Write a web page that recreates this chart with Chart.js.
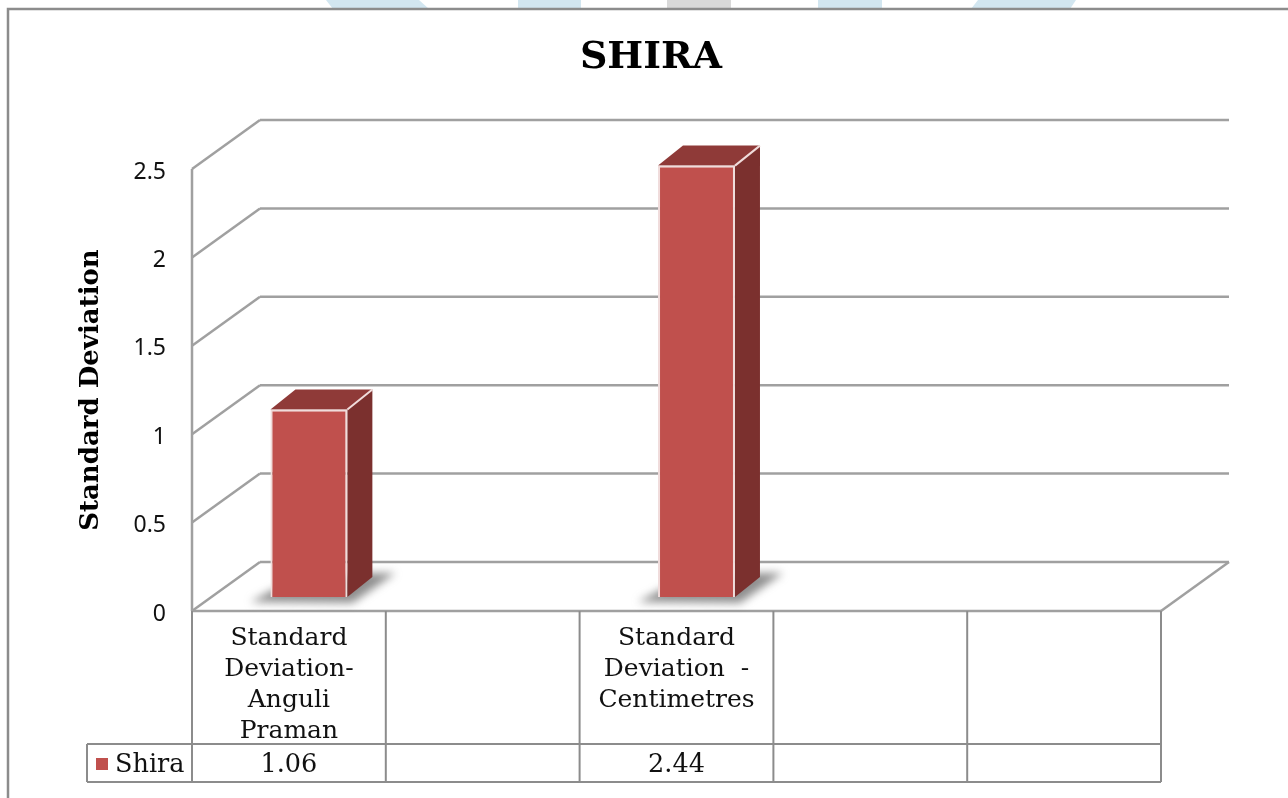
<!DOCTYPE html>
<html>
<head>
<meta charset="utf-8">
<style>html,body{margin:0;padding:0;background:#fff;overflow:hidden}canvas{display:block}</style>
<script src="https://cdn.jsdelivr.net/npm/chart.js@4"></script>
</head>
<body>
<canvas id="c" width="1288" height="798"></canvas>
<script>
const categories = [
  ['Standard', 'Deviation-', 'Anguli', 'Praman'],
  '',
  ['Standard', 'Deviation  -', 'Centimetres'],
  '',
  ''
];
const seriesName = 'Shira';
const shiraValues = [1.06, null, 2.44, null, null];
const tableValues = ['1.06', '', '2.44', '', ''];
const chartTitle = 'SHIRA';
const yAxisTitle = 'Standard Deviation';

const SERIF = '"DejaVu Serif", serif';
const GRID = '#a0a0a0', TABLE = '#8c8c8c';
const RED = '#c0504d', RED_TOP = '#8f3a38', RED_SIDE = '#7b302e', EDGE = '#f0dcdb';
// 3-D projection of the plot: wall depth, bar shift inside the floor, bar depth
const DEPTH = {x: 68, y: -49}, SHIFT = {x: 20, y: -14}, BAR = {x: 25, y: -20};
const Y_LABEL_DROP = 3;

function line(ctx, x1, y1, x2, y2) { ctx.beginPath(); ctx.moveTo(x1, y1); ctx.lineTo(x2, y2); ctx.stroke(); }
function poly(ctx, pts) { ctx.beginPath(); pts.forEach((p, i) => i ? ctx.lineTo(p[0], p[1]) : ctx.moveTo(p[0], p[1])); ctx.closePath(); }

const page = {
  id: 'page',
  afterLayout(chart) {
    const s = chart.scales.y;
    if (s._dropWrapped) return;
    s._dropWrapped = true;
    const draw = s.drawLabels;
    s.drawLabels = function (area) {
      this.ctx.save();
      this.ctx.translate(0, Y_LABEL_DROP);
      draw.call(this, area);
      this.ctx.restore();
    };
  },
  beforeDraw(chart) {
    const ctx = chart.ctx;
    ctx.save();
    ctx.fillStyle = '#fff'; ctx.fillRect(0, 0, chart.width, chart.height);
    ctx.fillStyle = '#d2e6f0';
    poly(ctx, [[326, 0], [419, 0], [429, 9], [333, 9]]); ctx.fill();
    ctx.fillRect(518, 0, 63, 9);
    ctx.fillRect(818, 0, 64, 9);
    poly(ctx, [[978, 0], [1076, 0], [1070, 9], [971, 9]]); ctx.fill();
    ctx.fillStyle = '#d9d9d9'; ctx.fillRect(667, 0, 64, 9);
    ctx.strokeStyle = '#8c8c8c'; ctx.lineWidth = 2.5;
    ctx.beginPath(); ctx.moveTo(8, chart.height); ctx.lineTo(8, 9); ctx.lineTo(chart.width, 9); ctx.stroke();
    ctx.restore();
  }
};

const walls = {
  id: 'walls',
  beforeDatasetsDraw(chart) {
    const ctx = chart.ctx, {left, right} = chart.chartArea, y = chart.scales.y;
    ctx.save();
    ctx.strokeStyle = GRID; ctx.lineWidth = 2.5;
    y.ticks.forEach(t => {
      const py = y.getPixelForValue(t.value);
      line(ctx, left, py, left + DEPTH.x, py + DEPTH.y);
      line(ctx, left + DEPTH.x, py + DEPTH.y, right + DEPTH.x, py + DEPTH.y);
    });
    const y0 = y.getPixelForValue(0);
    line(ctx, left, y.getPixelForValue(y.max), left, y0);
    line(ctx, left, y0, right, y0);
    line(ctx, right, y0, right + DEPTH.x, y0 + DEPTH.y);
    ctx.restore();
  },
  beforeDatasetDraw(chart, args) {
    const ctx = chart.ctx;
    // floor shadows first, then side and top faces
    args.meta.data.forEach((bar, i) => {
      if (shiraValues[i] == null) return;
      const l = bar.x - bar.width / 2 + SHIFT.x, r = bar.x + bar.width / 2 + SHIFT.x;
      const t = bar.y + SHIFT.y, b = bar.base + SHIFT.y;
      ctx.save();
      ctx.filter = 'blur(4px)';
      ctx.fillStyle = 'rgba(100,100,100,.72)';
      poly(ctx, [[l - 20, b + 5], [r + 5, b + 6], [r + 48, b - 24], [r + 18, b - 24], [l + 4, b - 8]]);
      ctx.fill();
      ctx.filter = 'none';
      ctx.strokeStyle = EDGE; ctx.lineWidth = 2; ctx.lineJoin = 'round';
      poly(ctx, [[r, t], [r + BAR.x, t + BAR.y], [r + BAR.x, b + BAR.y], [r, b]]);
      ctx.fillStyle = RED_SIDE; ctx.fill();
      poly(ctx, [[l, t], [l + BAR.x, t + BAR.y], [r + BAR.x, t + BAR.y], [r, t]]);
      ctx.fillStyle = RED_TOP; ctx.fill();
      line(ctx, r, t, r + BAR.x, t + BAR.y);
      ctx.restore();
    });
    ctx.save();
    ctx.translate(SHIFT.x, SHIFT.y);
  },
  afterDatasetDraw(chart) { chart.ctx.restore(); }
};

const dataTable = {
  id: 'dataTable',
  afterDraw(chart) {
    const ctx = chart.ctx, x = chart.scales.x, {left, right, bottom} = chart.chartArea;
    const band = (right - left) / categories.length;
    const rowTop = 744, rowBottom = 782, legendLeft = 87;
    ctx.save();
    ctx.strokeStyle = TABLE; ctx.lineWidth = 2;
    for (let i = 0; i <= categories.length; i++) {
      const px = left + band * i;
      line(ctx, px, bottom, px, rowBottom);
    }
    line(ctx, legendLeft, rowTop, right, rowTop);
    line(ctx, legendLeft, rowBottom, right, rowBottom);
    line(ctx, legendLeft, rowTop, legendLeft, rowBottom);
    ctx.fillStyle = RED; ctx.fillRect(96, 758, 12, 12);
    ctx.fillStyle = '#111';
    ctx.font = '25.5px ' + SERIF;
    ctx.textBaseline = 'middle';
    ctx.textAlign = 'left';
    ctx.fillText(seriesName, 115, 765);
    ctx.textAlign = 'center';
    tableValues.forEach((v, i) => ctx.fillText(v, x.getPixelForValue(i), 765));
    ctx.restore();
  }
};

new Chart(document.getElementById('c'), {
  type: 'bar',
  data: {
    labels: categories,
    datasets: [{
      label: seriesName,
      data: shiraValues,
      backgroundColor: RED,
      borderColor: EDGE,
      borderWidth: 2,
      barPercentage: 0.397,
      categoryPercentage: 1
    }]
  },
  plugins: [page, walls, dataTable],
  options: {
    responsive: false,
    animation: false,
    layout: {padding: {left: 14, right: 0, top: 0, bottom: 0}},
    plugins: {
      legend: {display: false},
      tooltip: {enabled: false},
      title: {
        display: true,
        text: chartTitle,
        color: '#000',
        font: {family: SERIF, size: 38, weight: 'bold', lineHeight: 1.2},
        padding: {top: 35, bottom: 88.4}
      }
    },
    scales: {
      x: {
        grid: {display: false},
        border: {display: false},
        ticks: {
          color: '#111', font: {family: SERIF, size: 25, lineHeight: 1.24},
          autoSkip: false, maxRotation: 0, minRotation: 0, padding: 4
        },
        afterFit(s) { s.height = 187; }
      },
      y: {
        min: 0, max: 2.5,
        grid: {display: false},
        border: {display: false},
        ticks: {
          stepSize: 0.5, color: '#111', padding: 18,
          font: {family: '"Noto Sans"', size: 23},
          callback: v => String(v)
        },
        title: {
          display: true, text: yAxisTitle, color: '#000',
          font: {family: SERIF, size: 26, weight: 'bold', lineHeight: 1.2},
          padding: {top: 62, bottom: 0}
        },
        afterFit(s) { s.width = 178; }
      },
      spacer: {
        position: 'right',
        display: true,
        grid: {display: false},
        border: {display: false},
        ticks: {display: false},
        afterFit(s) { s.width = 127; }
      }
    }
  }
});
</script>
</body>
</html>
